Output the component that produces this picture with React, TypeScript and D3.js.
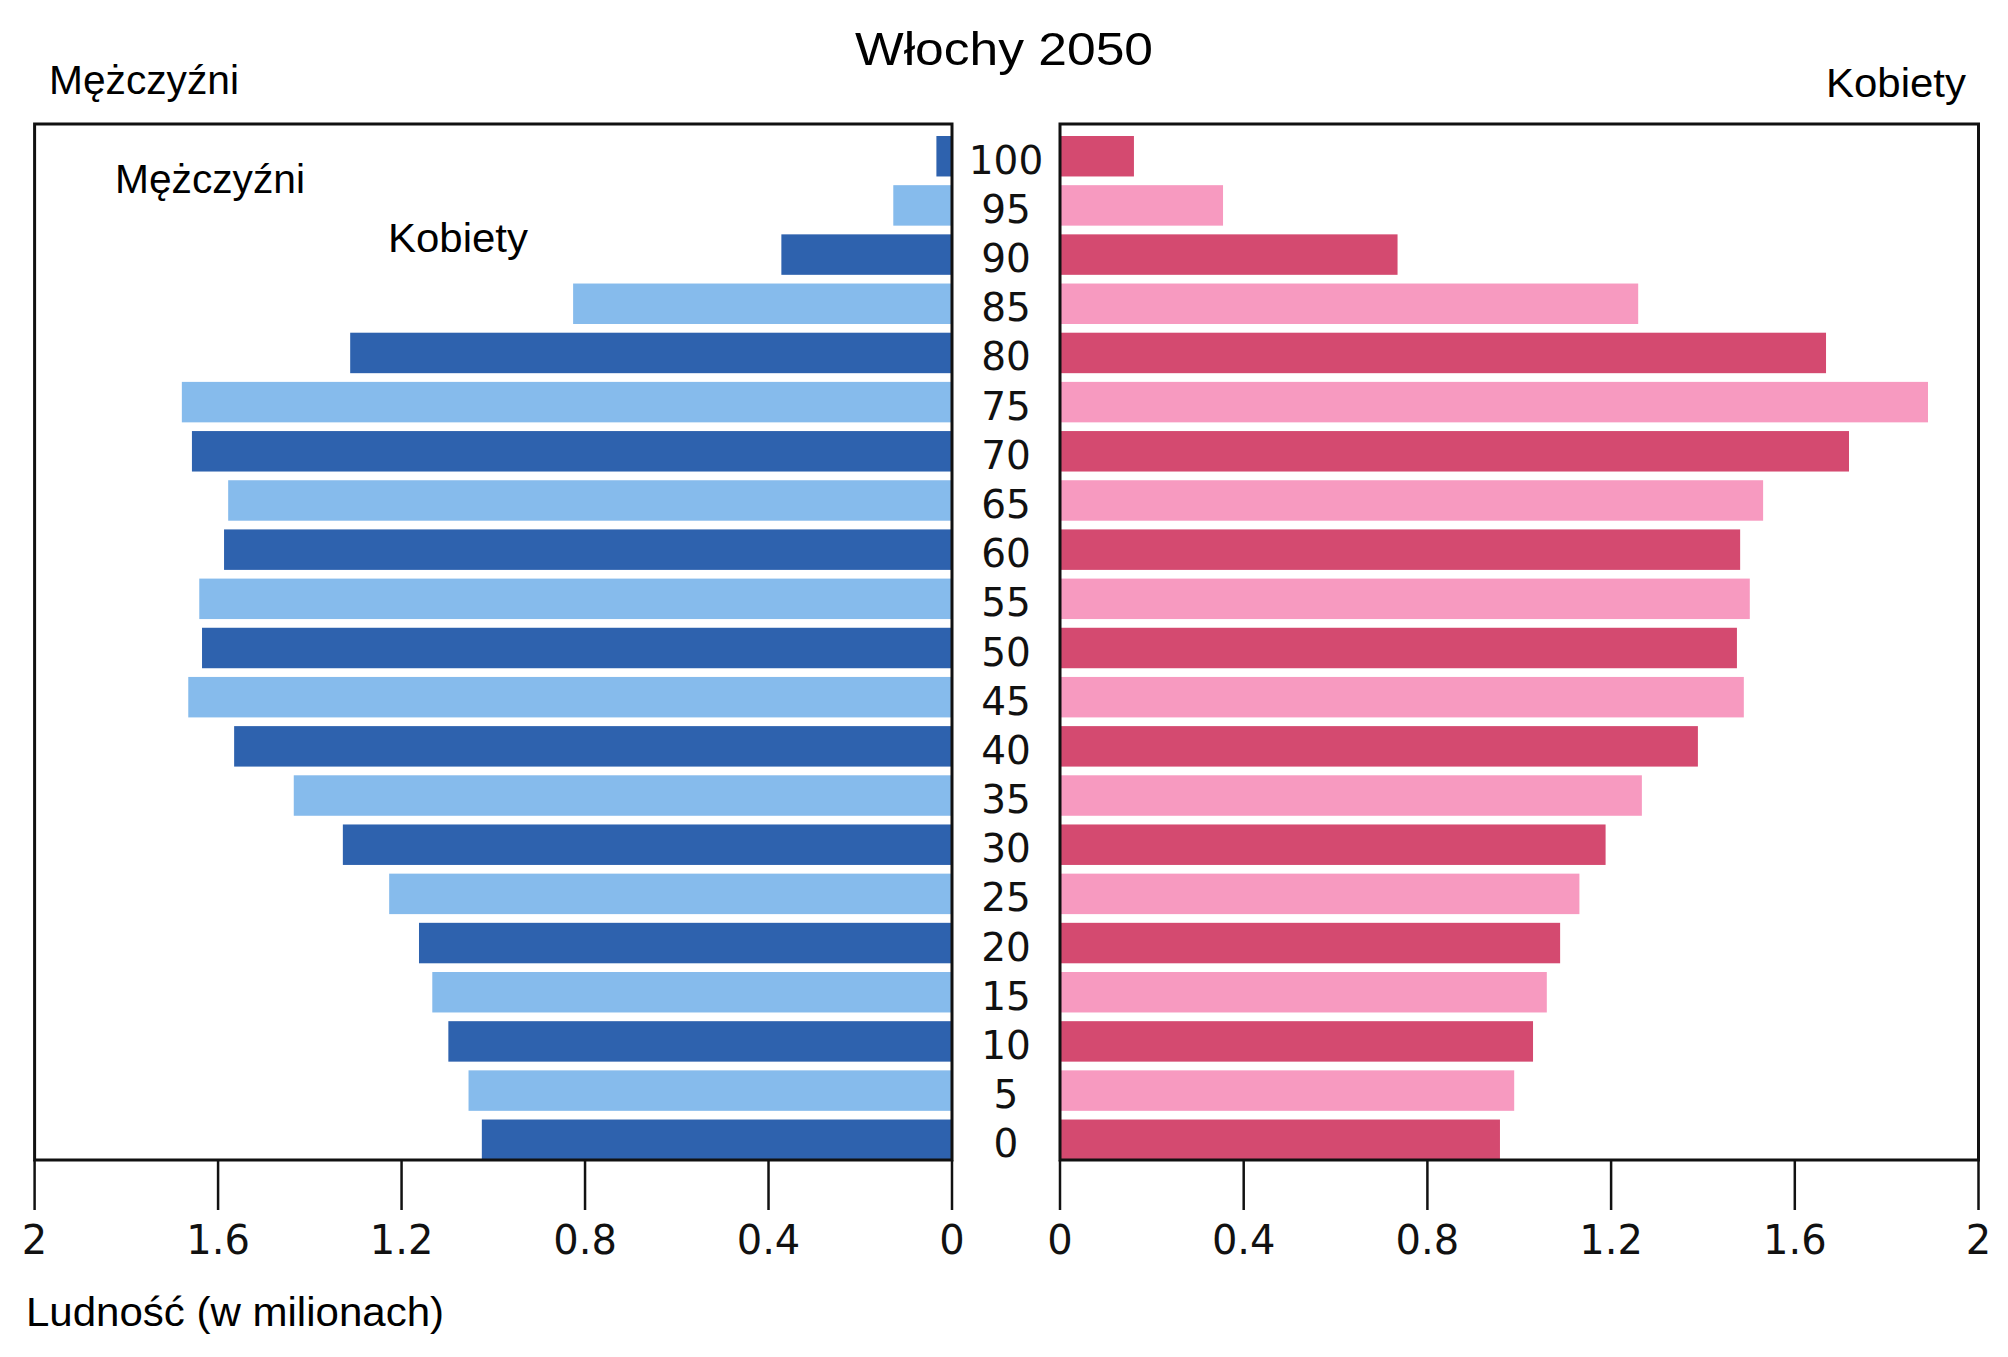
import React from "react";
import * as d3 from "d3";

const ages = [0, 5, 10, 15, 20, 25, 30, 35, 40, 45, 50, 55, 60, 65, 70, 75, 80, 85, 90, 95, 100];
const male = [1.025, 1.054, 1.098, 1.133, 1.162, 1.227, 1.328, 1.435, 1.565, 1.665, 1.635, 1.641, 1.587, 1.578, 1.657, 1.679, 1.312, 0.826, 0.372, 0.128, 0.034];
const female = [0.958, 0.989, 1.03, 1.06, 1.089, 1.131, 1.188, 1.267, 1.389, 1.489, 1.474, 1.502, 1.481, 1.531, 1.718, 1.89, 1.668, 1.259, 0.735, 0.355, 0.161];
const tickValues = [0, 0.4, 0.8, 1.2, 1.6, 2];

const maleDark = "#2e62ae";
const maleLight = "#86bbec";
const femDark = "#d44a70";
const femLight = "#f79ac0";

const W = 2008;
const H = 1357;
const top = 124;
const bottom = 1160;
const leftX0 = 34.6;
const leftX1 = 952;
const rightX0 = 1060;
const rightX1 = 1978.5;

const xLeft = d3.scaleLinear().domain([0, 2]).range([leftX1, leftX0]);
const xRight = d3.scaleLinear().domain([0, 2]).range([rightX0, rightX1]);
const y = d3
  .scaleBand<number>()
  .domain([...ages].reverse())
  .range([136, bottom])
  .paddingInner(0.177)
  .paddingOuter(0);
const fmt = d3.format("~g");

const labelFont = "'Liberation Sans', Arial, sans-serif";
const axisFont = "'DejaVu Sans', sans-serif";

export default function App() {
  const bh = y.bandwidth();
  return (
    <svg width={W} height={H} style={{ position: "absolute", left: 0, top: 0, background: "#fff" }}>
      {/* bars */}
      {ages.map((a, i) => {
        const dark = (a / 5) % 2 === 0;
        return (
          <g key={a}>
            <rect
              x={xLeft(male[i])}
              y={y(a)}
              width={xLeft(0) - xLeft(male[i])}
              height={bh}
              fill={dark ? maleDark : maleLight}
            />
            <rect
              x={xRight(0)}
              y={y(a)}
              width={xRight(female[i]) - xRight(0)}
              height={bh}
              fill={dark ? femDark : femLight}
            />
            <text
              x={(leftX1 + rightX0) / 2}
              y={(y(a) as number) + bh / 2 + 4}
              textAnchor="middle"
              dominantBaseline="central"
              fontFamily={axisFont}
              fontSize={39}
              fill="#111"
            >
              {a}
            </text>
          </g>
        );
      })}
      {/* frames */}
      <rect x={leftX0} y={top} width={leftX1 - leftX0} height={bottom - top} fill="none" stroke="#111" strokeWidth={3} />
      <rect x={rightX0} y={top} width={rightX1 - rightX0} height={bottom - top} fill="none" stroke="#111" strokeWidth={3} />
      {/* ticks */}
      {tickValues.map((t) => (
        <g key={"l" + t}>
          <line x1={xLeft(t)} x2={xLeft(t)} y1={bottom} y2={bottom + 50} stroke="#111" strokeWidth={2.5} />
          <text x={xLeft(t)} y={1254} textAnchor="middle" fontFamily={axisFont} fontSize={40} fill="#111">
            {fmt(t)}
          </text>
          <line x1={xRight(t)} x2={xRight(t)} y1={bottom} y2={bottom + 50} stroke="#111" strokeWidth={2.5} />
          <text x={xRight(t)} y={1254} textAnchor="middle" fontFamily={axisFont} fontSize={40} fill="#111">
            {fmt(t)}
          </text>
        </g>
      ))}
      {/* titles */}
      <text x={855} y={65} fontFamily={labelFont} fontSize={46} textLength={298} lengthAdjust="spacingAndGlyphs" fill="#000">
        Włochy 2050
      </text>
      <text x={49} y={94} fontFamily={labelFont} fontSize={40} textLength={190} lengthAdjust="spacingAndGlyphs" fill="#000">
        Mężczyźni
      </text>
      <text x={1826} y={97} fontFamily={labelFont} fontSize={40} textLength={140} lengthAdjust="spacingAndGlyphs" fill="#000">
        Kobiety
      </text>
      <text x={115} y={193} fontFamily={labelFont} fontSize={40} textLength={190} lengthAdjust="spacingAndGlyphs" fill="#000">
        Mężczyźni
      </text>
      <text x={388} y={252} fontFamily={labelFont} fontSize={40} textLength={140} lengthAdjust="spacingAndGlyphs" fill="#000">
        Kobiety
      </text>
      <text x={26} y={1326} fontFamily={labelFont} fontSize={40} textLength={418} lengthAdjust="spacingAndGlyphs" fill="#000">
        Ludność (w milionach)
      </text>
    </svg>
  );
}
